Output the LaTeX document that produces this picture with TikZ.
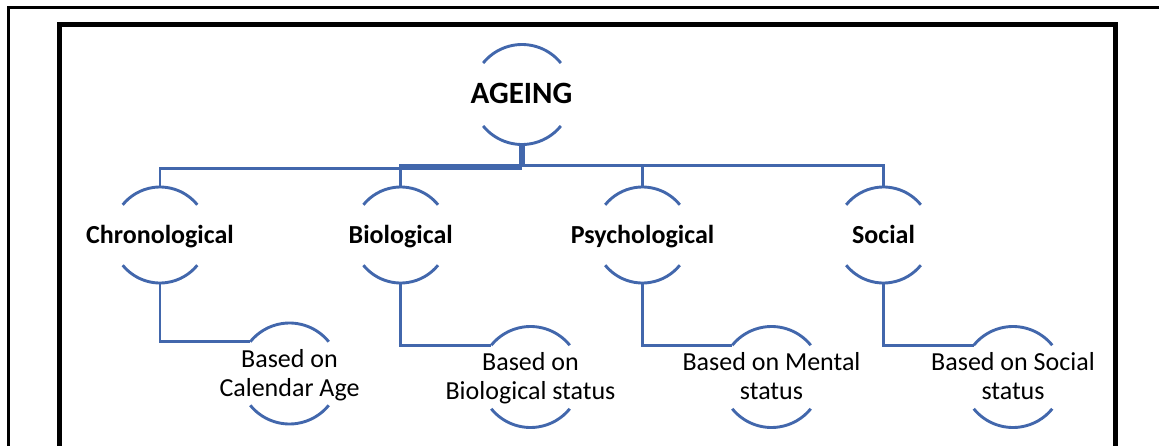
\documentclass[tikz,border=0pt]{standalone}
\usepackage{fontspec}
\setmainfont{Carlito}
\definecolor{sablue}{RGB}{66,103,172}
\newcommand\rings[2]{%
  \draw[conn] ([shift={(39:#2)}]#1.center) arc[start angle=39,end angle=141,radius=#2];
  \draw[conn] ([shift={(-141:#2)}]#1.center) arc[start angle=-141,end angle=-39,radius=#2];}
\begin{document}
\begin{tikzpicture}[x=1pt,y=1pt,
  conn/.style={draw=sablue,line width=2.9pt},
  ring/.style={circle,draw=none,inner sep=0pt,minimum size=#1},
  toptext/.style={font=\fontsize{31}{36}\selectfont\bfseries,anchor=base,inner sep=0pt},
  midtext/.style={font=\fontsize{26}{30}\selectfont\bfseries,anchor=base,inner sep=0pt},
  lowtext/.style={font=\fontsize{26}{29}\selectfont,align=center,anchor=base,inner sep=0pt},
]
\useasboundingbox (0,0) rectangle (1159,-445);
\clip (0,0) rectangle (1159,-445);
% frames
\draw[line width=3pt] (8.5,-7.5) rectangle (1175,-470);
\draw[line width=5pt] (59.5,-24) rectangle (1115.5,-470);
% ring nodes
\node[ring=100] (ageing) at (522,-94.5) {};
\node[ring=96] (chrono) at (160,-235) {};
\node[ring=96] (bio) at (400.7,-235) {};
\node[ring=96] (psych) at (642.5,-235) {};
\node[ring=96] (social) at (883.5,-235) {};
\node[ring=101] (cal) at (289.5,-373.5) {};
\node[ring=101] (biost) at (530.5,-377) {};
\node[ring=101] (ment) at (771.5,-377) {};
\node[ring=101] (socst) at (1013,-377) {};
\rings{ageing}{50}
\rings{chrono}{48}
\rings{bio}{48}
\rings{psych}{48}
\rings{social}{48}
\rings{cal}{50.5}
\rings{biost}{50.5}
\rings{ment}{50.5}
\rings{socst}{50.5}
% texts
\node[toptext] (ageingT) at (521.5,-103) {AGEING};
\node[midtext] (chronoT) at (160,-243) {Chronological};
\node[midtext] (bioT) at (400.7,-243) {Biological};
\node[midtext] (psychT) at (642.5,-243) {Psychological};
\node[midtext] (socialT) at (883.5,-243) {Social};
\node[lowtext] (calT) at (289.5,-396) {Based on\\Calendar Age};
\node[lowtext] (biostT) at (530.5,-399) {Based on\\Biological status};
\node[lowtext] (mentT) at (771.5,-399) {Based on Mental\\status};
\node[lowtext] (socstT) at (1013,-399) {Based on Social\\status};
% connectors
\draw[conn] ([xshift=-1.5pt]ageing.south) -- ++(0,-23.5) -| (chrono.north);
\draw[conn] ([xshift=1.5pt]ageing.south) -- ++(0,-20.5) -| (bio.north);
\draw[conn] ([xshift=1.5pt]ageing.south) -- ++(0,-20.5) -| (psych.north);
\draw[conn] ([xshift=1.5pt]ageing.south) -- ++(0,-20.5) -| (social.north);
\draw[conn] (chrono.south) |- (cal.141);
\draw[conn] (bio.south) |- (biost.141);
\draw[conn] (psych.south) |- (ment.141);
\draw[conn] (social.south) |- (socst.141);
\end{tikzpicture}
\end{document}
